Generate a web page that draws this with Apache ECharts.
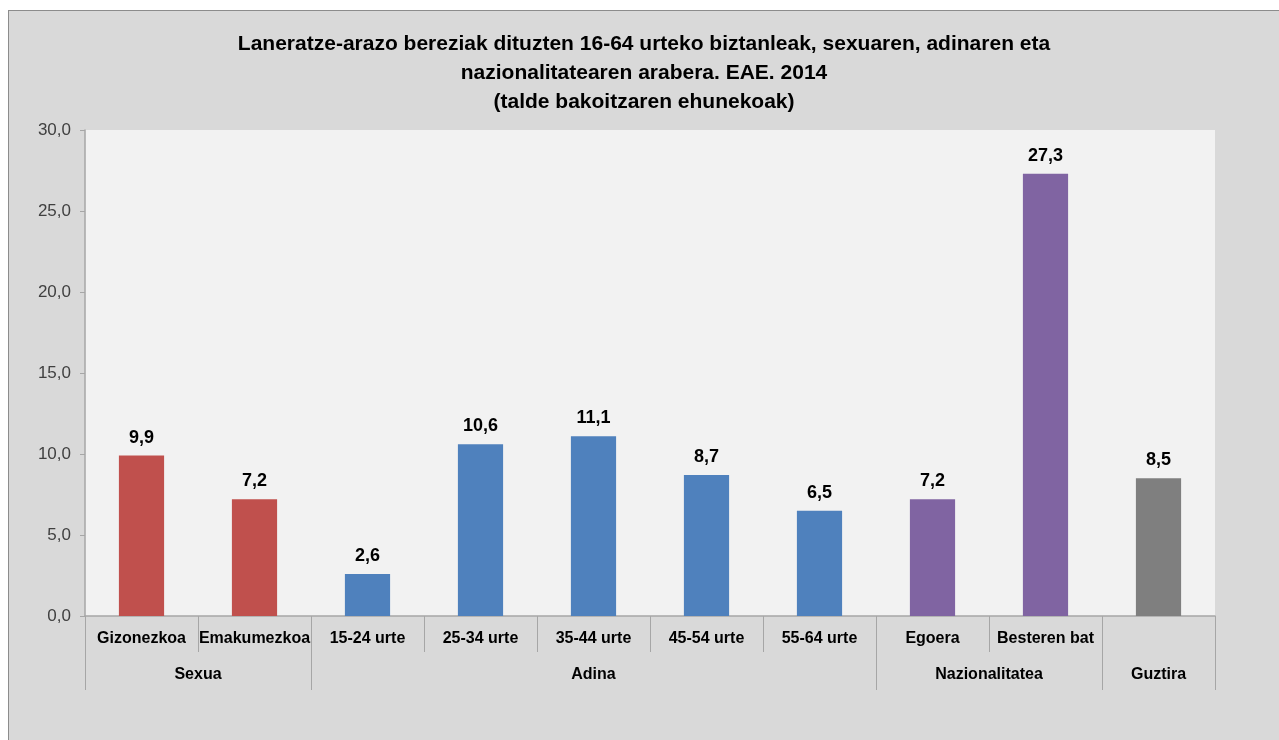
<!DOCTYPE html>
<html>
<head>
<meta charset="utf-8">
<script src="https://cdn.jsdelivr.net/npm/echarts@6/dist/echarts.min.js"></script>
<style>
  html, body { margin: 0; padding: 0; background: #fff; }
  #main {
    position: absolute; left: 8px; top: 10px;
    width: 1270px; height: 729px;
    border-left: 1px solid #8c8c8c; border-top: 1px solid #8c8c8c;
    background: #d9d9d9;
  }
</style>
</head>
<body>
<div id="main"></div>
<script>
var categories = ['Gizonezkoa', 'Emakumezkoa', '15-24 urte', '25-34 urte', '35-44 urte',
                  '45-54 urte', '55-64 urte', 'Egoera', 'Besteren bat', ''];
var values = [9.9, 7.2, 2.6, 10.6, 11.1, 8.7, 6.5, 7.2, 27.3, 8.5];
var groupNames = ['Sexua', 'Adina', 'Nazionalitatea', 'Guztira'];
var groupSizes = [2, 5, 2, 1];
var groupColors = ['#c0504d', '#4f81bd', '#8064a2', '#7f7f7f'];
var yTicks = [0, 5, 10, 15, 20, 25, 30];

function comma(v) {
    return Number(v).toFixed(1).replace('.', ',');
}

// group boundaries / centres on a 0..N scale
var bounds = [0];
var centres = [];
var colorsPerBar = [];
for (var i = 0; i < groupSizes.length; i++) {
    var start = bounds[bounds.length - 1];
    centres.push(start + groupSizes[i] / 2);
    bounds.push(start + groupSizes[i]);
    for (var j = 0; j < groupSizes[i]; j++) colorsPerBar.push(groupColors[i]);
}

var barData = [];
for (var i = 0; i < values.length; i++) {
    barData.push({ value: values[i], itemStyle: { color: colorsPerBar[i] } });
}

var myChart = echarts.init(document.getElementById('main'));
myChart.setOption({
    animation: false,
    title: {
        text: 'Laneratze-arazo bereziak dituzten 16-64 urteko biztanleak, sexuaren, adinaren eta\nnazionalitatearen arabera. EAE. 2014\n(talde bakoitzaren ehunekoak)',
        left: 'center',
        top: 14,
        textStyle: {
            fontFamily: 'Liberation Sans',
            fontSize: 21,
            fontWeight: 'bold',
            color: '#000',
            lineHeight: 29
        }
    },
    grid: {
        left: 76, right: 64, top: 119, bottom: 124,
        show: true, backgroundColor: '#f2f2f2', borderWidth: 0
    },
    xAxis: [{
        type: 'category',
        data: categories,
        position: 'bottom',
        axisLine: { show: true, lineStyle: { color: '#a6a6a6', width: 1.5 } },
        axisTick: { show: true, interval: 0, length: 36, lineStyle: { color: '#a6a6a6' } },
        axisLabel: {
            interval: 0, margin: 15,
            fontFamily: 'Liberation Sans', fontSize: 16, fontWeight: 'bold', color: '#000'
        }
    }, {
        type: 'value',
        min: 0, max: categories.length,
        position: 'bottom',
        axisLine: { show: false },
        splitLine: { show: false },
        axisTick: { show: true, customValues: bounds, length: 74, lineStyle: { color: '#a6a6a6' } },
        axisLabel: {
            customValues: centres,
            margin: 51,
            fontFamily: 'Liberation Sans', fontSize: 16, fontWeight: 'bold', color: '#000',
            formatter: function (v) {
                for (var k = 0; k < centres.length; k++) {
                    if (Math.abs(centres[k] - v) < 1e-6) return groupNames[k];
                }
                return '';
            }
        }
    }],
    yAxis: {
        type: 'value',
        min: yTicks[0], max: yTicks[yTicks.length - 1], interval: 5,
        axisLine: { show: true, lineStyle: { color: '#a6a6a6', width: 1.5 } },
        axisTick: { show: true, length: 5, lineStyle: { color: '#a6a6a6' } },
        splitLine: { show: false },
        axisLabel: {
            margin: 14,
            fontFamily: 'Liberation Sans', fontSize: 17, color: '#404040',
            formatter: comma
        }
    },
    series: [{
        type: 'bar',
        xAxisIndex: 0,
        data: barData,
        barWidth: '40%',
        label: {
            show: true, position: 'top', distance: 9,
            fontFamily: 'Liberation Sans', fontSize: 18, fontWeight: 'bold', color: '#000',
            formatter: function (p) { return comma(p.value); }
        }
    }]
});
</script>
</body>
</html>
